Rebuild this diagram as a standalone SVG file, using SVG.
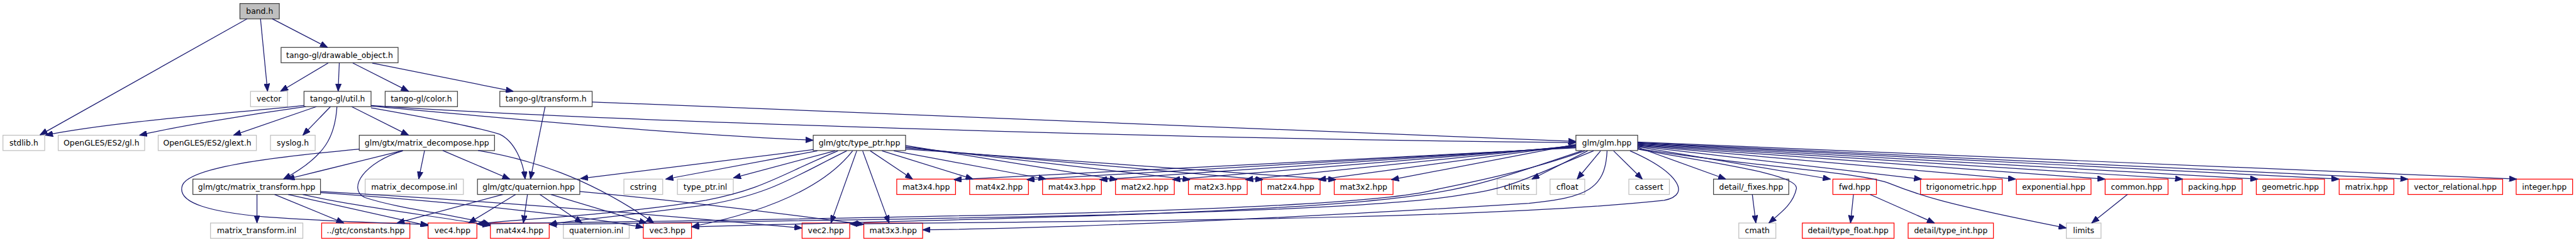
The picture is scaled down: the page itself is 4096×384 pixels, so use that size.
<svg xmlns="http://www.w3.org/2000/svg" width="4096" height="384" viewBox="0 0 4096 384">
<style>
.n rect{fill:#fff;stroke:#404040;stroke-width:1.33}
.r rect{fill:#bfbfbf;stroke:#404040;stroke-width:1.33}
.x rect{fill:#fff;stroke:#bfbfbf;stroke-width:1.33}
.t rect{fill:#fff;stroke:#ff0000;stroke-width:1.33}
text{font-family:"DejaVu Sans","Liberation Sans",sans-serif;font-size:13.3px;text-anchor:middle;fill:#000}
#edges path{fill:none;stroke:#191970;stroke-width:1.33;marker-end:url(#a)}
</style>
<defs>
<marker id="a" markerWidth="13" markerHeight="10" refX="13" refY="5" orient="auto" markerUnits="userSpaceOnUse"><path d="M0,0 L13,5 L0,10 z" fill="#191970" stroke="#191970" stroke-width="1"/></marker>
</defs>
<rect width="4096" height="384" fill="#fff"/>
<g transform="scale(0.935)">
<g id="nodes">
<g id="band" class="r"><rect x="408" y="6" width="67" height="26"/><text x="441.5" y="23.7">band.h</text></g>
<g id="drawable" class="n"><rect x="478" y="80.5" width="199" height="26"/><text x="577.5" y="98.2">tango-gl/drawable_object.h</text></g>
<g id="vector" class="x"><rect x="426" y="155" width="63" height="26"/><text x="457.5" y="172.7">vector</text></g>
<g id="util" class="n"><rect x="517" y="155" width="114" height="26"/><text x="574" y="172.7">tango-gl/util.h</text></g>
<g id="color" class="n"><rect x="655" y="155" width="123" height="26"/><text x="716.5" y="172.7">tango-gl/color.h</text></g>
<g id="transform" class="n"><rect x="850" y="155" width="157" height="26"/><text x="928.5" y="172.7">tango-gl/transform.h</text></g>
<g id="stdlib" class="x"><rect x="5" y="229.5" width="71" height="26"/><text x="40.5" y="247.2">stdlib.h</text></g>
<g id="gl" class="x"><rect x="99" y="229.5" width="147" height="26"/><text x="172.5" y="247.2">OpenGLES/ES2/gl.h</text></g>
<g id="glext" class="x"><rect x="269" y="229.5" width="167" height="26"/><text x="352.5" y="247.2">OpenGLES/ES2/glext.h</text></g>
<g id="syslog" class="x"><rect x="460" y="229.5" width="76" height="26"/><text x="498" y="247.2">syslog.h</text></g>
<g id="mdecomp" class="n"><rect x="611" y="229.5" width="230" height="26"/><text x="726" y="247.2">glm/gtx/matrix_decompose.hpp</text></g>
<g id="typeptr" class="n"><rect x="1383" y="229.5" width="157" height="26"/><text x="1461.5" y="247.2">glm/gtc/type_ptr.hpp</text></g>
<g id="glm" class="n"><rect x="2680" y="229.5" width="105" height="26"/><text x="2732.5" y="247.2">glm/glm.hpp</text></g>
<g id="mtransform" class="n"><rect x="328" y="304" width="217" height="26"/><text x="436.5" y="321.7">glm/gtc/matrix_transform.hpp</text></g>
<g id="mdinl" class="x"><rect x="621" y="304" width="167" height="26"/><text x="704.5" y="321.7">matrix_decompose.inl</text></g>
<g id="quat" class="n"><rect x="812" y="304" width="174" height="26"/><text x="899" y="321.7">glm/gtc/quaternion.hpp</text></g>
<g id="cstring" class="x"><rect x="1061" y="304" width="66" height="26"/><text x="1094" y="321.7">cstring</text></g>
<g id="tpinl" class="x"><rect x="1152" y="304" width="95" height="26"/><text x="1199.5" y="321.7">type_ptr.inl</text></g>
<g id="mat3x4" class="t"><rect x="1525" y="304" width="100" height="26"/><text x="1575" y="321.7">mat3x4.hpp</text></g>
<g id="mat4x2" class="t"><rect x="1649" y="304" width="100" height="26"/><text x="1699" y="321.7">mat4x2.hpp</text></g>
<g id="mat4x3" class="t"><rect x="1773" y="304" width="100" height="26"/><text x="1823" y="321.7">mat4x3.hpp</text></g>
<g id="mat2x2" class="t"><rect x="1897" y="304" width="100" height="26"/><text x="1947" y="321.7">mat2x2.hpp</text></g>
<g id="mat2x3" class="t"><rect x="2021" y="304" width="100" height="26"/><text x="2071" y="321.7">mat2x3.hpp</text></g>
<g id="mat2x4" class="t"><rect x="2145" y="304" width="100" height="26"/><text x="2195" y="321.7">mat2x4.hpp</text></g>
<g id="mat3x2" class="t"><rect x="2269" y="304" width="100" height="26"/><text x="2319" y="321.7">mat3x2.hpp</text></g>
<g id="climits" class="x"><rect x="2546" y="304" width="67" height="26"/><text x="2579.5" y="321.7">climits</text></g>
<g id="cfloat" class="x"><rect x="2636" y="304" width="59" height="26"/><text x="2665.5" y="321.7">cfloat</text></g>
<g id="cassert" class="x"><rect x="2770" y="304" width="69" height="26"/><text x="2804.5" y="321.7">cassert</text></g>
<g id="fixes" class="n"><rect x="2914" y="304" width="128" height="26"/><text x="2978" y="321.7">detail/_fixes.hpp</text></g>
<g id="fwd" class="t"><rect x="3117" y="304" width="74" height="26"/><text x="3154" y="321.7">fwd.hpp</text></g>
<g id="trig" class="t"><rect x="3266" y="304" width="139" height="26"/><text x="3335.5" y="321.7">trigonometric.hpp</text></g>
<g id="expo" class="t"><rect x="3429" y="304" width="127" height="26"/><text x="3492.5" y="321.7">exponential.hpp</text></g>
<g id="common" class="t"><rect x="3580" y="304" width="107" height="26"/><text x="3633.5" y="321.7">common.hpp</text></g>
<g id="packing" class="t"><rect x="3711" y="304" width="102" height="26"/><text x="3762" y="321.7">packing.hpp</text></g>
<g id="geometric" class="t"><rect x="3837" y="304" width="116" height="26"/><text x="3895" y="321.7">geometric.hpp</text></g>
<g id="matrix" class="t"><rect x="3978" y="304" width="93" height="26"/><text x="4024.5" y="321.7">matrix.hpp</text></g>
<g id="vecrel" class="t"><rect x="4095" y="304" width="161" height="26"/><text x="4175.5" y="321.7">vector_relational.hpp</text></g>
<g id="integer" class="t"><rect x="4279" y="304" width="96" height="26"/><text x="4327" y="321.7">integer.hpp</text></g>
<g id="mtinl" class="x"><rect x="358" y="378.5" width="157" height="26"/><text x="436.5" y="396.2">matrix_transform.inl</text></g>
<g id="constants" class="t"><rect x="547" y="378.5" width="150" height="26"/><text x="622" y="396.2">../gtc/constants.hpp</text></g>
<g id="vec4" class="t"><rect x="728" y="378.5" width="83" height="26"/><text x="769.5" y="396.2">vec4.hpp</text></g>
<g id="mat4x4" class="t"><rect x="834" y="378.5" width="100" height="26"/><text x="884" y="396.2">mat4x4.hpp</text></g>
<g id="quatinl" class="x"><rect x="958" y="378.5" width="112" height="26"/><text x="1014" y="396.2">quaternion.inl</text></g>
<g id="vec3" class="t"><rect x="1094" y="378.5" width="82" height="26"/><text x="1135" y="396.2">vec3.hpp</text></g>
<g id="vec2" class="t"><rect x="1364" y="378.5" width="81" height="26"/><text x="1404.5" y="396.2">vec2.hpp</text></g>
<g id="mat3x3" class="t"><rect x="1469" y="378.5" width="100" height="26"/><text x="1519" y="396.2">mat3x3.hpp</text></g>
<g id="cmath" class="x"><rect x="2957" y="378.5" width="63" height="26"/><text x="2988.5" y="396.2">cmath</text></g>
<g id="typefloat" class="t"><rect x="3065" y="378.5" width="156" height="26"/><text x="3143" y="396.2">detail/type_float.hpp</text></g>
<g id="typeint" class="t"><rect x="3245" y="378.5" width="145" height="26"/><text x="3317.5" y="396.2">detail/type_int.hpp</text></g>
<g id="limits" class="x"><rect x="3514" y="378.5" width="59" height="26"/><text x="3543.5" y="396.2">limits</text></g>
</g>
<g id="edges">
<path d="M420,32 L68,229"/>
<path d="M443,32 L455,155"/>
<path d="M463,32 L557,80.5"/>
<path d="M558,107 L477,155"/>
<path d="M577,107 L575,155"/>
<path d="M600,107 L695,155"/>
<path d="M633,107 L873,155"/>
<path d="M1007,173 L2680,240"/>
<path d="M927,181 L902,304"/>
<path d="M517,179 C420,190 200,205 77,229.5"/>
<path d="M520,181 C420,195 300,215 237,229.5"/>
<path d="M538,181 L397,229.5"/>
<path d="M562,181 L515,229.5"/>
<path d="M598,181 L695,229.5"/>
<path d="M573,181 C570,230 555,265 482,304"/>
<path d="M631,183 C700,195 810,215 850,228 C875,240 890,275 893,304"/>
<path d="M631,180 C800,195 1100,225 1383,238"/>
<path d="M631,179 C1000,205 2000,236 2680,242"/>
<path d="M685,255.5 L488,304"/>
<path d="M722,255.5 L712,304"/>
<path d="M753,255.5 L867,304"/>
<path d="M813,255.5 C900,270 1000,300 1112,378.5"/>
<path d="M611,253 C450,268 320,285 310,315 C300,345 360,360 450,368 C560,376 680,379 728,381"/>
<path d="M685,256 C620,275 590,320 620,335 C680,355 780,365 834,381"/>
<path d="M437,330 L437,378.5"/>
<path d="M467,330 L585,378.5"/>
<path d="M490,330 L728,383"/>
<path d="M515,330 C600,350 750,368 834,383"/>
<path d="M545,327 C800,345 1000,368 1094,386"/>
<path d="M545,325 C900,345 1200,372 1364,387"/>
<path d="M855,330 L675,378.5"/>
<path d="M877,330 L797,378.5"/>
<path d="M897,330 L890,378.5"/>
<path d="M918,330 L990,378.5"/>
<path d="M937,330 L1100,379"/>
<path d="M986,325 C1150,340 1350,365 1469,381"/>
<path d="M1383,254 L987,303"/>
<path d="M1390,256 L1132,304"/>
<path d="M1420,256 L1247,302"/>
<path d="M1425,256 C1320,300 1300,320 1200,340 C1050,365 900,370 811,380"/>
<path d="M1440,256 C1350,300 1310,330 1200,348 C1050,368 960,375 934,381"/>
<path d="M1450,256 C1400,320 1300,360 1176,385"/>
<path d="M1457,256 L1413,378.5"/>
<path d="M1467,256 L1512,378.5"/>
<path d="M1480,256 L1552,304"/>
<path d="M1500,256 L1655,304"/>
<path d="M1520,256 L1779,304"/>
<path d="M1540,247 L1900,305"/>
<path d="M1540,249 L2024,305"/>
<path d="M1540,251 L2148,305"/>
<path d="M1540,253 L2272,305"/>
<path d="M2680,251 L1622,305"/>
<path d="M2680,250 L1746,305"/>
<path d="M2680,249 L1870,305"/>
<path d="M2680,248 L1994,305"/>
<path d="M2680,247 L2118,305"/>
<path d="M2680,246 L2242,305"/>
<path d="M2680,245 L2366,305"/>
<path d="M2700,256 L2605,304"/>
<path d="M2722,256 L2682,304"/>
<path d="M2744,256 L2793,304"/>
<path d="M2785,250 L2935,304"/>
<path d="M2785,249 L3113,304"/>
<path d="M2785,248 L3268,304"/>
<path d="M2785,247 L3428,304"/>
<path d="M2785,246 L3580,304"/>
<path d="M2785,245 L3712,304"/>
<path d="M2785,244 L3840,304"/>
<path d="M2785,243 L3978,304"/>
<path d="M2785,242 L4095,304"/>
<path d="M2785,241 L4280,304"/>
<path d="M2785,253 C2900,275 3060,295 3055,320 C3050,345 3030,360 3008,378.5"/>
<path d="M2785,252 C2950,280 3150,290 3210,310 C3260,330 3300,345 3514,387"/>
<path d="M2980,330 L2986,378.5"/>
<path d="M3152,330 L3147,378.5"/>
<path d="M3180,330 L3290,378.5"/>
<path d="M3618,330 L3557,378.5"/>
<path d="M2733,256 C2730,320 2700,335 2600,345 C2200,370 1800,388 1569,390"/>
<path d="M2772,256 C2850,290 2880,330 2830,340 C2500,375 1800,375 1445,380"/>
<path d="M2690,256 C2560,300 2500,320 2420,330 C2200,365 1500,375 1176,385"/>
<path d="M2695,256 C2600,290 2500,310 2440,322 C2300,360 1500,370 811,380"/>
<path d="M2710,256 C2600,300 2570,320 2490,330 C2300,365 1500,372 934,381"/>
</g>
</g>
</svg>
